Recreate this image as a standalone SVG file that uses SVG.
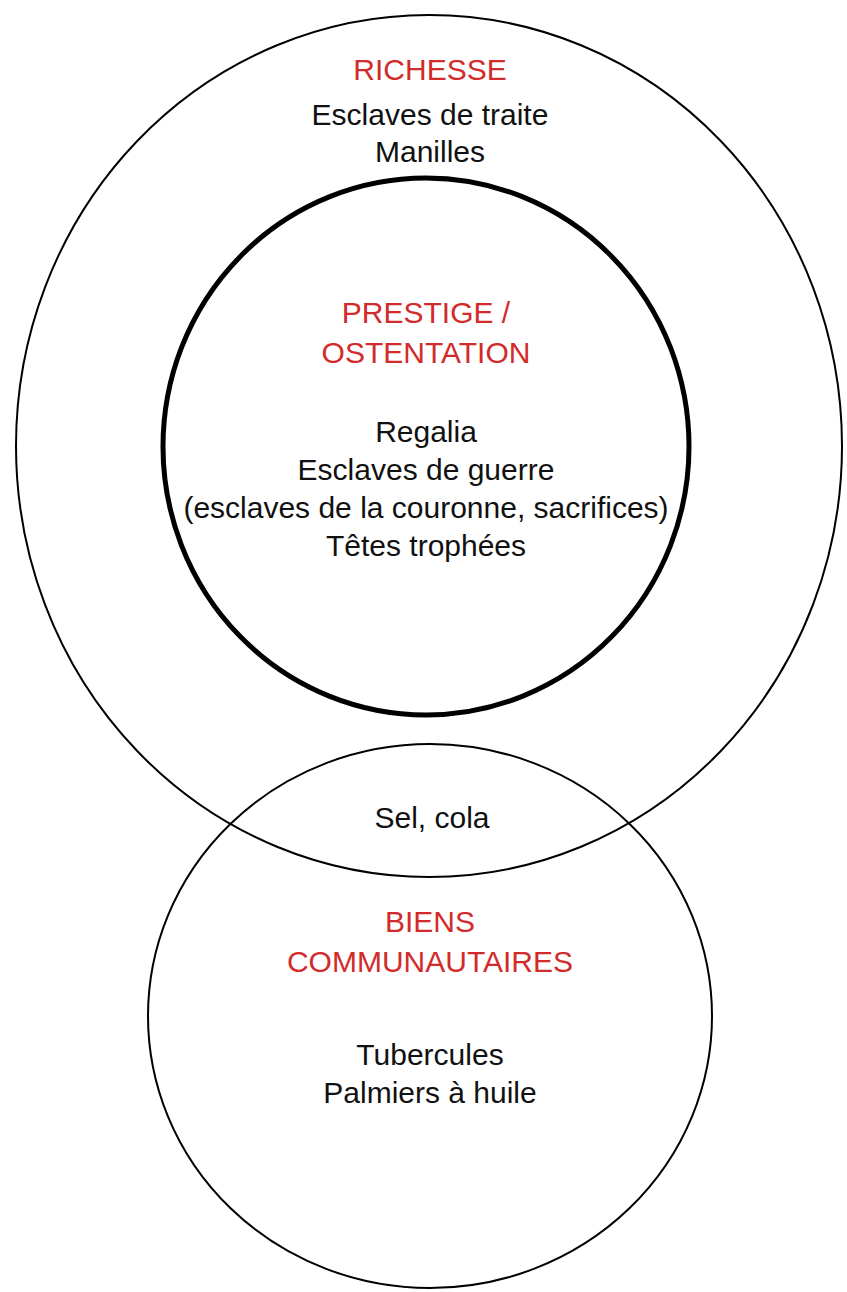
<svg xmlns="http://www.w3.org/2000/svg" width="847" height="1292" viewBox="0 0 847 1292">
<style>
.ring{fill:none;stroke:#000;stroke-width:2}
.thick{fill:none;stroke:#000;stroke-width:5}
text{font-family:"Liberation Sans",Arial,sans-serif;font-size:30px;text-anchor:middle;fill:#111}
.title{fill:#d22b2b}
</style>
<rect width="847" height="1292" fill="#fff"/>
<g id="richesse">
<ellipse class="ring" cx="429" cy="446" rx="413" ry="431"/>
<text class="title" x="430" y="80">RICHESSE</text>
<text x="430" y="125">Esclaves de traite</text>
<text x="430" y="162">Manilles</text>
</g>
<g id="prestige">
<ellipse class="thick" cx="426" cy="446.5" rx="263" ry="268.5"/>
<text class="title" x="426" y="323">PRESTIGE /</text>
<text class="title" x="426" y="363">OSTENTATION</text>
<text x="426" y="442">Regalia</text>
<text x="426" y="480">Esclaves de guerre</text>
<text x="426" y="518">(esclaves de la couronne, sacrifices)</text>
<text x="426" y="556">Têtes trophées</text>
</g>
<g id="biens">
<ellipse class="ring" cx="430" cy="1016" rx="282" ry="272"/>
<text class="title" x="430" y="932">BIENS</text>
<text class="title" x="430" y="972">COMMUNAUTAIRES</text>
<text x="430" y="1065">Tubercules</text>
<text x="430" y="1103">Palmiers à huile</text>
</g>
<g id="intersection">
<text x="432" y="828">Sel, cola</text>
</g>
<g id="connectors"></g>
</svg>
